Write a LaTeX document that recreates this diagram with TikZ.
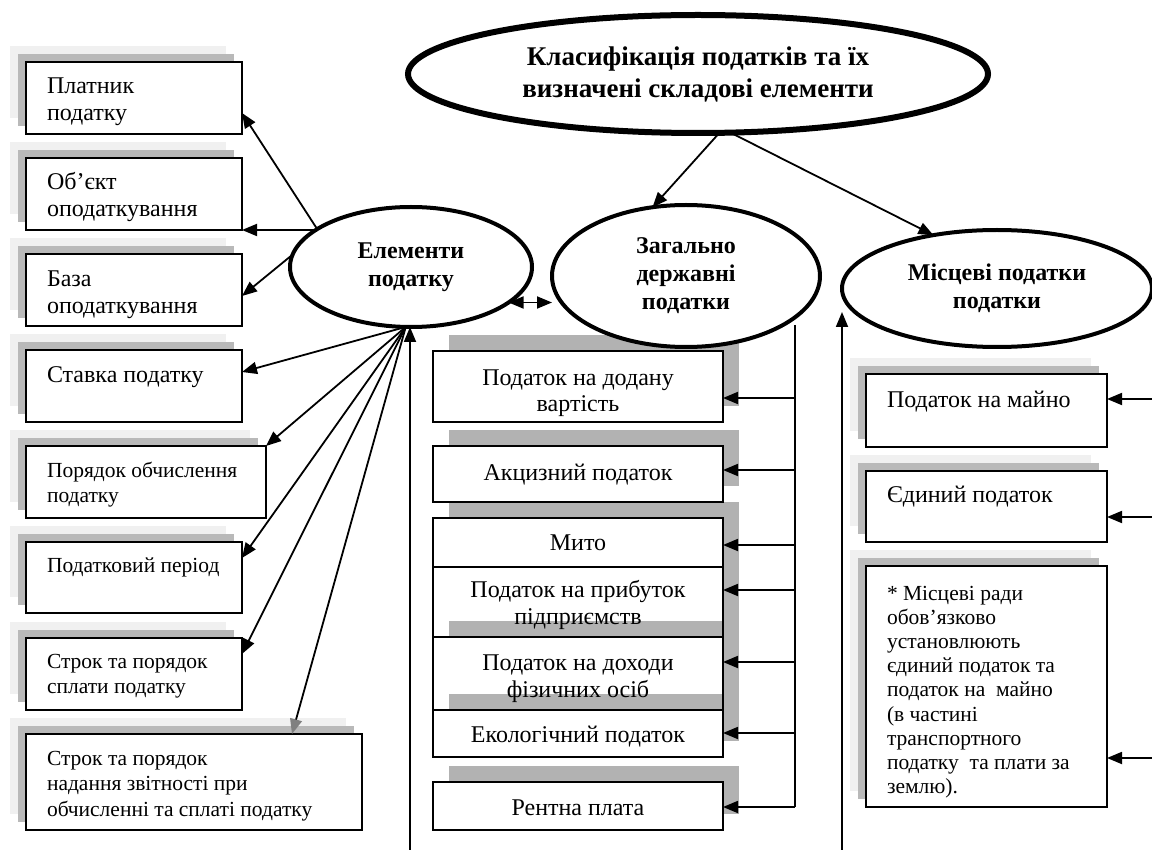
\documentclass[tikz,border=0pt]{standalone}
\usepackage{fontspec}
\setmainfont{Liberation Serif}
\usetikzlibrary{shapes.geometric,arrows.meta,shadows}
\newcommand{\bxt}[5]{\parbox[t][#1][t]{#2}{#4\rule{0pt}{#3}#5}}
\newcommand{\lft}{\raggedright\leftskip=21pt\relax}
\newcommand{\fbig}{\fontsize{24}{27}\selectfont}
\newcommand{\fsmall}{\fontsize{21.5}{25.5}\selectfont}
\newcommand{\fnote}{\fontsize{21.5}{24.2}\selectfont}
\newcommand{\fell}{\fontsize{24}{28}\selectfont\bfseries}
\newcommand{\ftitle}{\fontsize{27}{32}\selectfont\bfseries}
\begin{document}
\begin{tikzpicture}[x=1pt,y=-1pt,
  lbox/.style={draw, line width=2pt, fill=white, inner sep=0pt, outer sep=0pt, anchor=north west,
    drop shadow={shadow xshift=-16pt, shadow yshift=16pt, opacity=1, fill=gray!12},
    drop shadow={shadow xshift=-8pt, shadow yshift=8pt, opacity=1, fill=gray!55}},
  mbox/.style={draw, line width=2pt, fill=white, inner sep=0pt, outer sep=0pt, anchor=north west,
    drop shadow={shadow xshift=16pt, shadow yshift=16pt, opacity=0.3, fill=black}},
  ell/.style={ellipse, draw, line width=4pt, fill=white, inner sep=0pt, outer sep=0pt, align=center, font=\fell},
  arr/.style={line width=1.8pt, -{Triangle[length=15pt,width=12pt]}},
  arrg/.style={line width=1.8pt, -{Triangle[length=15pt,width=12pt,color=gray]}},
  dbl/.style={line width=1.8pt, {Triangle[length=15pt,width=12pt]}-{Triangle[length=15pt,width=12pt]}},
  ln/.style={line width=1.8pt}
]
\useasboundingbox (0,0) rectangle (1152,850);

% left column
\node[lbox, font=\fbig] (L1) at (26,62) {\bxt{72pt}{216pt}{32pt}{\lft}{Платник\\податку}};
\node[lbox, font=\fbig] (L2) at (26,158) {\bxt{72pt}{216pt}{32pt}{\lft}{Об’єкт\\оподаткування}};
\node[lbox, font=\fbig] (L3) at (26,254) {\bxt{72pt}{216pt}{33pt}{\lft}{База\\оподаткування}};
\node[lbox, font=\fbig] (L4) at (26,350) {\bxt{72pt}{216pt}{33pt}{\lft}{Ставка податку}};
\node[lbox, font=\fsmall] (L5) at (26,446) {\bxt{72pt}{240pt}{31pt}{\lft}{Порядок обчислення\\податку}};
\node[lbox, font=\fsmall] (L6) at (26,542) {\bxt{71pt}{216pt}{30pt}{\lft}{Податковий період}};
\node[lbox, font=\fsmall] (L7) at (26,638) {\bxt{72pt}{216pt}{30pt}{\lft}{Строк та порядок\\сплати податку}};
\node[lbox, font=\fsmall] (L8) at (26,734) {\bxt{96pt}{336pt}{31pt}{\lft}{Строк та порядок\\надання звітності при\\обчисленні та сплаті податку}};

% middle column
\node[mbox, font=\fbig] (M1) at (433,351) {\bxt{71pt}{290pt}{34pt}{\centering}{Податок на додану\\вартість}};
\node[mbox, font=\fbig] (M2) at (433,446) {\bxt{56pt}{290pt}{34pt}{\centering}{Акцизний податок}};
\node[mbox, font=\fbig] (M4) at (433,567) {\bxt{70pt}{290pt}{30pt}{\centering}{Податок на прибуток\\підприємств}};
\node[mbox, font=\fbig] (M3) at (433,518) {\bxt{49pt}{290pt}{32pt}{\centering}{Мито}};
\node[mbox, font=\fbig] (M5) at (433,637) {\bxt{73pt}{290pt}{33pt}{\centering}{Податок на доходи\\фізичних осіб}};
\node[mbox, font=\fbig] (M6) at (433,710) {\bxt{47pt}{290pt}{32pt}{\centering}{Екологічний податок}};
\node[mbox, font=\fbig] (M7) at (433,782) {\bxt{48pt}{290pt}{33pt}{\centering}{Рентна плата}};

% right column
\node[lbox, font=\fbig] (R1) at (866,374) {\bxt{73pt}{241pt}{33pt}{\lft}{Податок на майно}};
\node[lbox, font=\fbig] (R2) at (866,471) {\bxt{71pt}{241pt}{31pt}{\lft}{Єдиний податок}};
\node[lbox, font=\fnote] (R3) at (866,566) {\bxt{241pt}{241pt}{34pt}{\lft}{* Місцеві ради\\обов’язково\\установлюють\\єдиний податок та\\податок на\ \ майно\\(в частині\\транспортного\\податку\ \ та плати за\\землю).}};

% ellipses
\node[ell, line width=6pt, minimum width=580pt, minimum height=118pt, font=\ftitle] (cls) at (698,74) {Класифікація податків та їх\\визначені складові елементи};
\node[ell, minimum width=242pt, minimum height=120pt] (elem) at (411,267) {Елементи\\податку};
\node[ell, minimum width=268pt, minimum height=142pt] (zag) at (686,276) {Загально\\державні\\податки};
\node[ell, minimum width=310pt, minimum height=117pt] (mis) at (997,288.5) {Місцеві податки\\податки};

% top connectors
\draw[arr] (cls.-70) -- (zag.116);
\draw[arr] (cls.-61) -- (mis.140);
\draw[dbl] (elem.-20) -- (elem.-20 -| zag.west);

% element connectors
\draw[arr] (elem.158) -- ([yshift=-51pt]L1.north east);
\draw[arr] (L2.south east -| elem.158) -- (L2.south east);
\draw[arr] (elem.174) -- ([yshift=-42pt]L3.north east);
\draw[arr] (elem.265) -- ([yshift=-22pt]L4.north east);
\draw[arr] (elem.265) -- (L5.north east);
\draw[arr] (elem.265) -- ([yshift=-16pt]L6.north east);
\draw[arr] (elem.265) -- ([yshift=-16pt]L7.north east);
\draw[arrg] (elem.265) -- ([xshift=-70pt]L8.north east);
\coordinate (eb) at (410,850);
\draw[arr] (eb) -- (eb |- elem.south);

% middle bus
\coordinate (zs) at (795,325);
\coordinate (zb) at (795,807);
\draw[ln] (zs) -- (zb);
\coordinate (c1) at (795,398);
\coordinate (c2) at (795,470);
\coordinate (c3) at (795,545);
\coordinate (c4) at (795,590);
\coordinate (c5) at (795,662);
\coordinate (c6) at (795,733);
\draw[arr] (c1) -- (c1 -| M1.east);
\draw[arr] (c2) -- (c2 -| M2.east);
\draw[arr] (c3) -- (c3 -| M3.east);
\draw[arr] (c4) -- (c4 -| M4.east);
\draw[arr] (c5) -- (c5 -| M5.east);
\draw[arr] (c6) -- (c6 -| M6.east);
\draw[arr] (zb) -- (zb -| M7.east);

% right column
\coordinate (mb) at (842,850);
\coordinate (mt) at (842,312);
\draw[arr] (mb) -- (mt);
\coordinate (r1) at (1152,399);
\coordinate (r2) at (1152,517);
\coordinate (r3) at (1152,758);
\draw[arr] (r1) -- (r1 -| R1.east);
\draw[arr] (r2) -- (r2 -| R2.east);
\draw[arr] (r3) -- (r3 -| R3.east);
\end{tikzpicture}
\end{document}
